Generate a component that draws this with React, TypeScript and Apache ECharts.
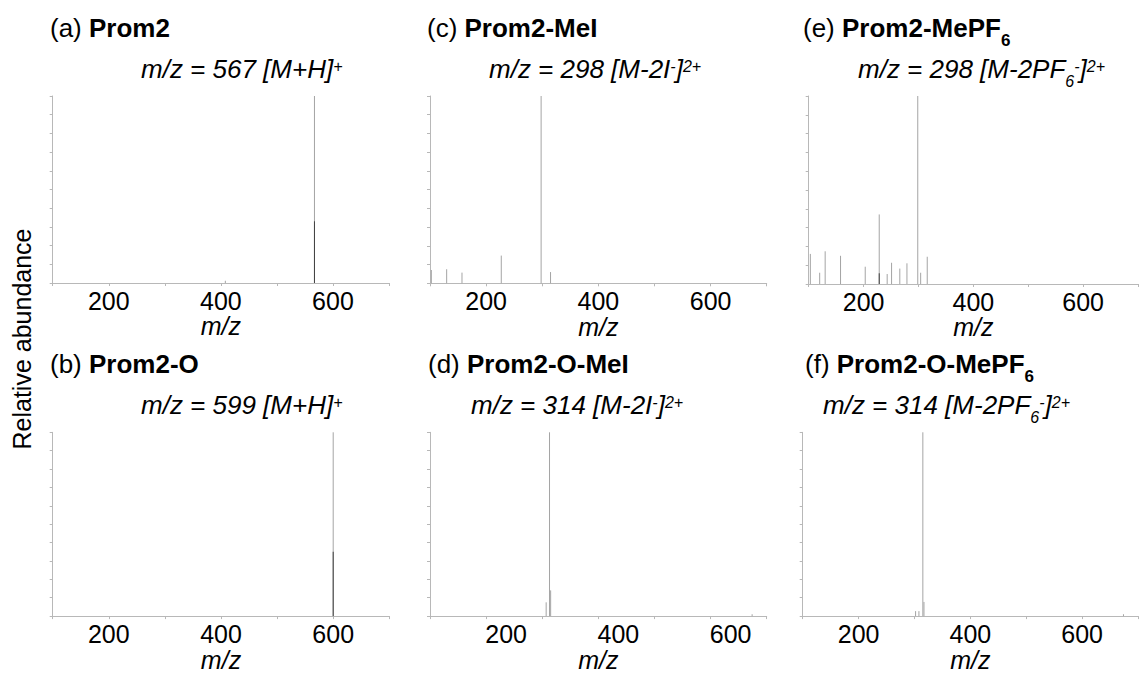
import React, { useEffect, useRef } from "react";
import * as echarts from "echarts";

// ---- data (m/z, relative abundance 0..1) ----
const mzA = [408, 567];
const abA = [0.012, 1.0];
const darkMzA = [567];
const darkAbA = [0.33];

const mzC = [102.4, 129.7, 157, 227, 298, 314.8];
const abC = [0.071, 0.075, 0.057, 0.148, 1.0, 0.06];

const mzE = [103, 120, 130, 158, 203, 228.5, 243, 251, 266, 279, 298.7, 304, 316];
const abE = [0.16, 0.06, 0.174, 0.15, 0.092, 0.37, 0.053, 0.113, 0.082, 0.11, 1.0, 0.06, 0.145];
const darkMzE = [228.5];
const darkAbE = [0.057];

const mzB = [600];
const abB = [1.0];
const darkMzB = [600];
const darkAbB = [0.35];

const mzD = [307, 313, 315, 674];
const abD = [0.075, 1.0, 0.14, 0.01];

const mzF = [302, 308, 315, 317, 674];
const abF = [0.027, 0.027, 1.0, 0.077, 0.01];

const xTickLabels = [200, 400, 600];

const FONT = '"Liberation Sans", Arial, Helvetica, sans-serif';
const AXIS_COLOR = "#b8b8b8";
const PEAK_COLOR = "#a4a4a4";
const DARK_COLOR = "#404040";

const zip = (xs: number[], ys: number[]) => xs.map((x, i) => [x, ys[i]]);

const GRIDS = [
  { left: 52.7, top: 96, width: 336.3, height: 187 }, // a
  { left: 430, top: 96, width: 336.7, height: 187.3 }, // c
  { left: 808.7, top: 96, width: 336, height: 188 }, // e
  { left: 52.7, top: 432.3, width: 336.6, height: 186.4 }, // b
  { left: 430, top: 432.3, width: 336.7, height: 187 }, // d
  { left: 802.7, top: 432.3, width: 339, height: 187 }, // f
];

const PANELS = [
  { peaks: zip(mzA, abA), dark: zip(darkMzA, darkAbA), labelShift: 0 },
  { peaks: zip(mzC, abC), dark: [], labelShift: 0 },
  { peaks: zip(mzE, abE), dark: zip(darkMzE, darkAbE), labelShift: 0 },
  { peaks: zip(mzB, abB), dark: zip(darkMzB, darkAbB), labelShift: 0 },
  { peaks: zip(mzD, abD), dark: [], labelShift: 40 },
  { peaks: zip(mzF, abF), dark: [], labelShift: 0 },
];

const TITLES = [
  { x: 50, y: 28, text: "{n|(a) }{b|Prom2}" },
  { x: 427, y: 28, text: "{n|(c) }{b|Prom2-MeI}" },
  { x: 803, y: 28, text: "{n|(e) }{b|Prom2-MePF}{bs|6}" },
  { x: 50, y: 364, text: "{n|(b) }{b|Prom2-O}" },
  { x: 428, y: 364, text: "{n|(d) }{b|Prom2-O-MeI}" },
  { x: 805, y: 364, text: "{n|(f) }{b|Prom2-O-MePF}{bs|6}" },
];

const SUBTITLES = [
  { x: 141, y: 69, text: "{i|m/z = 567 [M+H]}{sup|+}" },
  { x: 489, y: 69, text: "{i|m/z = 298 [M-2I}{sup|-}{i|]}{sup|2+}" },
  { x: 858, y: 69, text: "{i|m/z = 298 [M-2PF}{sub|6}{sup|-}{i|]}{sup|2+}" },
  { x: 141, y: 405, text: "{i|m/z = 599 [M+H]}{sup|+}" },
  { x: 471, y: 405, text: "{i|m/z = 314 [M-2I}{sup|-}{i|]}{sup|2+}" },
  { x: 823, y: 405, text: "{i|m/z = 314 [M-2PF}{sub|6}{sup|-}{i|]}{sup|2+}" },
];

const RICH = {
  n: { fontFamily: FONT, fontSize: 26, color: "#000", lineHeight: 30 },
  b: { fontFamily: FONT, fontSize: 26, fontWeight: "bold", color: "#000", lineHeight: 30 },
  bs: { fontFamily: FONT, fontSize: 17, fontWeight: "bold", color: "#000", verticalAlign: "bottom", lineHeight: 17, padding: [0, 0, -6, 0] },
  i: { fontFamily: FONT, fontSize: 26, fontStyle: "italic", color: "#000", lineHeight: 30 },
  sup: { fontFamily: FONT, fontSize: 16, fontStyle: "italic", color: "#000", verticalAlign: "top", lineHeight: 16, padding: [4, 0, 0, 0] },
  sub: { fontFamily: FONT, fontSize: 16, fontStyle: "italic", color: "#000", verticalAlign: "bottom", lineHeight: 16, padding: [0, 0, -5, 0] },
};

function peakSeries(idx: number, data: number[][], color: string) {
  return {
    type: "custom",
    xAxisIndex: idx,
    yAxisIndex: idx,
    data,
    encode: { x: 0, y: 1 },
    renderItem: (_params: any, api: any) => {
      const x = api.value(0);
      const y = api.value(1);
      const p0 = api.coord([x, 0]);
      const p1 = api.coord([x, y]);
      return {
        type: "line",
        shape: { x1: p0[0], y1: p0[1], x2: p1[0], y2: p1[1] },
        style: { stroke: color, lineWidth: 1 },
      };
    },
  };
}

export default function App() {
  const ref = useRef<HTMLDivElement>(null);
  useEffect(() => {
    if (!ref.current) return;
    const chart = echarts.init(ref.current, undefined, { renderer: "svg" });
    const series: any[] = [];
    PANELS.forEach((p, i) => {
      series.push(peakSeries(i, p.peaks, PEAK_COLOR));
      if (p.dark.length) series.push(peakSeries(i, p.dark, DARK_COLOR));
    });
    const option = {
      animation: false,
      backgroundColor: "#fff",
      grid: GRIDS.map((g) => ({ ...g, containLabel: false })),
      xAxis: PANELS.map((p, i) => ({
        type: "value",
        gridIndex: i,
        min: 100,
        max: 700,
        interval: 100,
        name: "m/z",
        nameLocation: "middle",
        nameGap: 19,
        nameTextStyle: {
          fontFamily: FONT,
          fontSize: 25,
          fontStyle: "italic",
          color: "#000",
          verticalAlign: "top",
        },
        axisLine: { show: true, onZero: false, lineStyle: { color: AXIS_COLOR, width: 1 } },
        axisTick: { show: true, length: 3, lineStyle: { color: AXIS_COLOR } },
        splitLine: { show: false },
        axisLabel: {
          fontFamily: FONT,
          fontSize: 25,
          color: "#000",
          margin: 5,
          padding: [0, 0, 0, p.labelShift],
          formatter: (v: number) => (xTickLabels.includes(v) ? String(v) : ""),
        },
      })),
      yAxis: PANELS.map((_p, i) => ({
        type: "value",
        gridIndex: i,
        min: 0,
        max: 1,
        interval: 0.1,
        axisLine: { show: true, lineStyle: { color: AXIS_COLOR, width: 1 } },
        axisTick: { show: true, length: 3, lineStyle: { color: AXIS_COLOR } },
        axisLabel: { show: false },
        splitLine: { show: false },
      })),
      series,
      graphic: [
        ...TITLES.map((t) => ({
          type: "text",
          x: t.x,
          y: t.y,
          style: { text: t.text, rich: RICH, verticalAlign: "middle", align: "left" },
        })),
        ...SUBTITLES.map((t) => ({
          type: "text",
          x: t.x,
          y: t.y,
          style: { text: t.text, rich: RICH, verticalAlign: "middle", align: "left" },
        })),
        {
          type: "text",
          x: 22,
          y: 339,
          rotation: Math.PI / 2,
          style: {
            text: "Relative abundance",
            fontFamily: FONT,
            fontSize: 25,
            fill: "#000",
            align: "center",
            verticalAlign: "middle",
          },
        },
      ],
    };
    chart.setOption(option as any);
    return () => chart.dispose();
  }, []);
  return (
    <div
      ref={ref}
      style={{ position: "fixed", left: 0, top: 0, width: 1141, height: 673, background: "#fff" }}
    />
  );
}
